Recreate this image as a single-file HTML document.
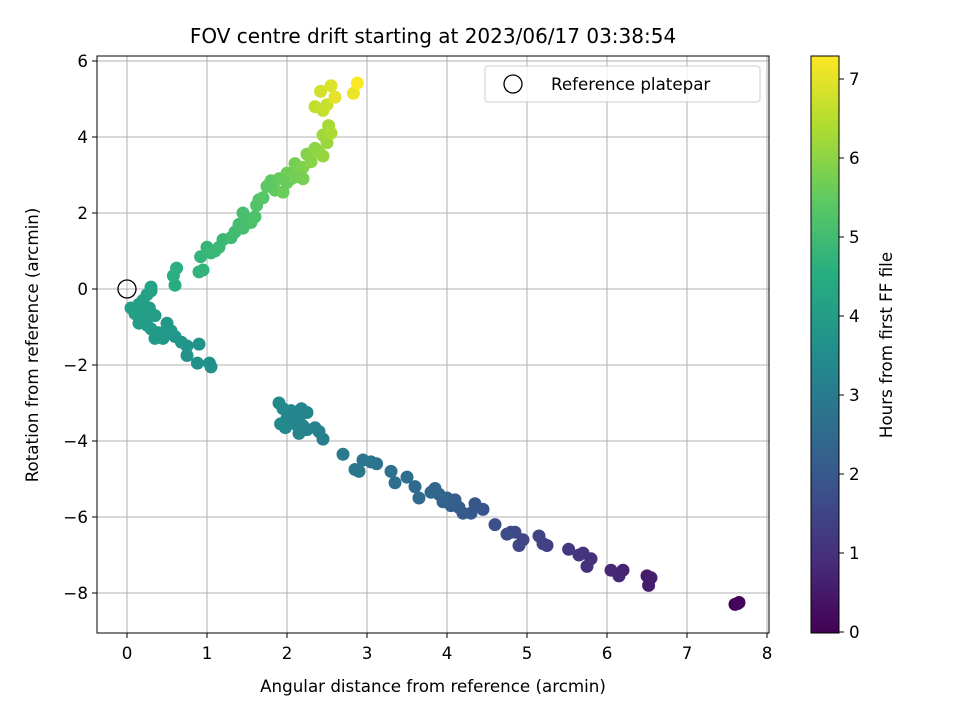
<!DOCTYPE html>
<html><head><meta charset="utf-8"><style>
body{margin:0;background:#fff;}
svg text{font-family:"DejaVu Sans","Liberation Sans",sans-serif;fill:#000;}
</style></head><body>
<svg id="chart" width="960" height="720" xmlns="http://www.w3.org/2000/svg">
<defs>
<linearGradient id="vir" x1="0" y1="1" x2="0" y2="0">
<stop offset="0" stop-color="#440154"/><stop offset="0.125" stop-color="#472d7b"/><stop offset="0.25" stop-color="#3b528b"/><stop offset="0.375" stop-color="#2c728e"/><stop offset="0.5" stop-color="#21918c"/><stop offset="0.625" stop-color="#28ae80"/><stop offset="0.75" stop-color="#5ec962"/><stop offset="0.875" stop-color="#addc30"/><stop offset="1" stop-color="#fde725"/>
</linearGradient>
</defs>
<text x="433" y="43" font-size="20" text-anchor="middle">FOV centre drift starting at 2023/06/17 03:38:54</text>
<g id="grid"></g>
<g id="marks"></g>
<rect x="97" y="56" width="672" height="577" fill="none" stroke="#000" stroke-width="1"/>
<g id="axes"></g>
<text x="433" y="692" font-size="16.7" text-anchor="middle">Angular distance from reference (arcmin)</text>
<text transform="translate(38,345) rotate(-90)" font-size="16.7" text-anchor="middle">Rotation from reference (arcmin)</text>
<g>
<rect x="485" y="66" width="275" height="36" rx="3" fill="#fff" fill-opacity="0.8" stroke="#ccc"/>
<circle cx="513" cy="84" r="9" fill="none" stroke="#000" stroke-width="1.3"/>
<text x="551" y="90" font-size="16.7">Reference platepar</text>
</g>
<rect x="811" y="56" width="28" height="577" fill="url(#vir)" stroke="#000" stroke-width="1"/>
<g id="cbaxis"></g>
<text transform="translate(892,345) rotate(-90)" font-size="16.7" text-anchor="middle">Hours from first FF file</text>
</svg>
<script>
const xTicks=[0,1,2,3,4,5,6,7,8];
const yTicks=[6,4,2,0,-2,-4,-6,-8];
const cTicks=[0,1,2,3,4,5,6,7];
const cMax=7.29;
const xs=[7.6,7.65,7.63,6.5,6.52,6.55,6.2,6.15,6.05,5.8,5.75,5.7,5.65,5.52,5.25,5.2,5.15,4.95,4.9,4.85,4.8,4.75,4.6,4.45,4.35,4.3,4.2,4.15,4.1,4.05,4.0,3.95,3.9,3.85,3.8,3.65,3.6,3.5,3.35,3.3,3.12,3.05,2.95,2.9,2.85,2.7,2.45,2.4,2.35,2.25,2.2,2.15,2.15,2.1,2.05,2.0,1.98,1.95,1.92,1.9,2.25,2.18,
1.05,1.03,0.88,0.9,0.75,0.75,0.68,0.6,0.55,0.5,0.45,0.4,0.35,0.3,0.25,0.2,0.15,0.1,0.05,0.15,0.2,0.25,0.3,0.3,0.28,0.22,0.35,
0.6,0.58,0.62,0.9,0.95,0.92,1.0,1.05,1.1,1.15,1.2,1.3,1.35,1.4,1.45,1.45,1.5,1.55,1.6,1.62,1.65,1.7,1.75,1.8,1.85,1.9,1.95,2.0,2.05,2.1,2.15,2.2,2.25,2.3,2.35,2.4,2.45,2.5,2.45,2.52,2.55,2.35,2.45,2.5,2.42,2.55,2.6,2.83,2.88,2.0,1.78,2.1,2.2];
const ys=[-8.3,-8.25,-8.28,-7.55,-7.8,-7.6,-7.4,-7.55,-7.4,-7.1,-7.3,-6.95,-7.0,-6.85,-6.75,-6.7,-6.5,-6.6,-6.75,-6.4,-6.4,-6.45,-6.2,-5.8,-5.65,-5.9,-5.9,-5.75,-5.55,-5.7,-5.5,-5.6,-5.4,-5.25,-5.35,-5.5,-5.2,-4.95,-5.1,-4.8,-4.6,-4.55,-4.5,-4.8,-4.75,-4.35,-3.95,-3.75,-3.65,-3.7,-3.6,-3.8,-3.4,-3.55,-3.2,-3.4,-3.65,-3.15,-3.55,-3.0,-3.25,-3.15,
-2.05,-1.95,-1.95,-1.45,-1.75,-1.5,-1.4,-1.25,-1.1,-0.9,-1.3,-1.15,-1.3,-1.05,-0.95,-0.8,-0.9,-0.65,-0.5,-0.4,-0.3,-0.15,-0.05,0.05,-0.5,-0.6,-0.7,
0.1,0.35,0.55,0.45,0.5,0.85,1.1,0.95,1.0,1.1,1.3,1.35,1.5,1.7,1.6,2.0,1.8,1.75,1.9,2.2,2.35,2.4,2.7,2.85,2.6,2.9,2.55,3.05,2.9,3.3,3.1,3.2,3.55,3.35,3.7,3.6,3.5,3.85,4.05,4.3,4.1,4.8,4.7,4.85,5.2,5.35,5.05,5.15,5.42,2.8,2.75,2.95,2.9];
const hours=[0,0.05,0.1,0.5,0.55,0.6,0.7,0.75,0.8,0.95,1.0,1.05,1.1,1.2,1.35,1.4,1.45,1.5,1.55,1.6,1.65,1.7,1.8,1.9,1.95,2.0,2.05,2.1,2.15,2.2,2.25,2.3,2.35,2.4,2.4,2.5,2.5,2.6,2.65,2.7,2.75,2.8,2.85,2.9,2.9,3.0,3.1,3.15,3.15,3.2,3.25,3.25,3.3,3.3,3.35,3.35,3.4,3.4,3.45,3.45,3.3,3.3,
3.6,3.62,3.65,3.7,3.72,3.75,3.78,3.8,3.82,3.85,3.87,3.9,3.92,3.95,3.97,4.0,4.02,4.05,4.08,4.1,4.12,4.15,4.18,4.2,4.1,4.08,4.05,
4.5,4.55,4.6,4.7,4.72,4.75,4.8,4.82,4.85,4.88,4.9,4.95,5.0,5.05,5.08,5.1,5.12,5.15,5.2,5.25,5.3,5.35,5.4,5.45,5.5,5.55,5.6,5.65,5.7,5.75,5.8,5.85,5.9,5.95,6.0,6.05,6.1,6.15,6.2,6.3,6.35,6.6,6.65,6.7,6.8,6.9,7.0,7.1,7.28,5.6,5.45,5.7,5.75];
const NS="http://www.w3.org/2000/svg";
const X=v=>127+80*v, Y=v=>289-38*v, C=v=>632-79*v;
const vir=[[68,1,84],[71,45,123],[59,82,139],[44,114,142],[33,145,140],[40,174,128],[94,201,98],[173,220,48],[253,231,37]];
function col(t){let f=Math.max(0,Math.min(1,t/cMax))*8,i=Math.min(7,Math.floor(f)),r=f-i;const a=vir[i],b=vir[i+1];return`rgb(${a.map((v,k)=>Math.round(v+(b[k]-v)*r)).join(',')})`;}
function mk(tag,attrs,parent){const e=document.createElementNS(NS,tag);for(const k in attrs)e.setAttribute(k,attrs[k]);parent.appendChild(e);return e;}
const grid=document.getElementById('grid'),axes=document.getElementById('axes'),marks=document.getElementById('marks'),cb=document.getElementById('cbaxis');
xTicks.forEach(t=>{const x=X(t);
 const g=mk('line',{x1:x,x2:x,y1:56,y2:633,stroke:'#b0b0b0','stroke-width':1},grid);
 
 
 mk('line',{x1:x,x2:x,y1:633,y2:638,stroke:'#000'},axes);
 const tx=mk('text',{x:x,y:659,'font-size':16.7,'text-anchor':'middle'},axes);tx.textContent=t;
 
 });
yTicks.forEach(t=>{const y=Y(t);
 const g=mk('line',{x1:97,x2:769,y1:y,y2:y,stroke:'#b0b0b0','stroke-width':1},grid);
 
 
 mk('line',{x1:92,x2:97,y1:y,y2:y,stroke:'#000'},axes);
 const tx=mk('text',{x:88,y:y+6,'font-size':16.7,'text-anchor':'end'},axes);tx.textContent=t<0?'\u2212'+(-t):t;
 
 });
cTicks.forEach(t=>{const y=C(t);
 mk('line',{x1:839,x2:844,y1:y,y2:y,stroke:'#000'},cb);
 const tx=mk('text',{x:849,y:y+6,'font-size':16.7},cb);tx.textContent=t;
 
 });
xs.forEach((v,i)=>{const c=mk('circle',{cx:X(v),cy:Y(ys[i]),r:6.5,fill:col(hours[i])},marks);
 
 });
const ref=mk('circle',{cx:X(0),cy:Y(0),r:9,fill:'none',stroke:'#000','stroke-width':1.3},marks);


</script>
</body></html>
